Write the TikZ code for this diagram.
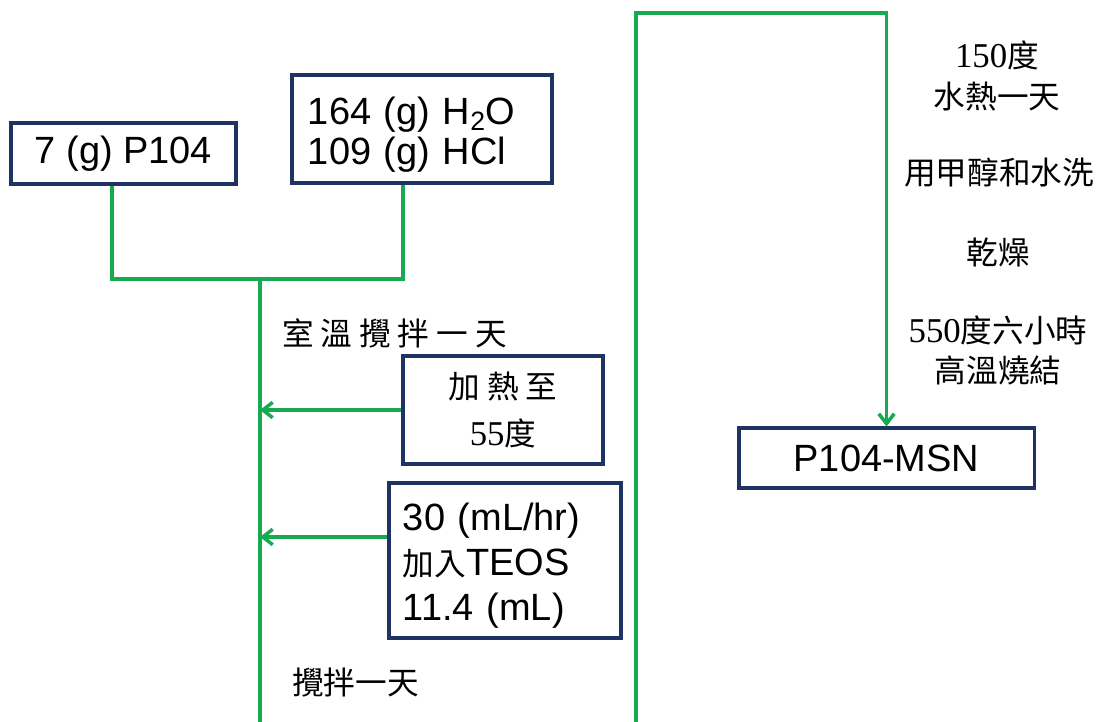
\documentclass[tikz,border=0pt]{standalone}
\usepackage{fontspec}
\setmainfont{Liberation Sans}
\newfontfamily\cjk{Noto Sans CJK TC}
\newfontfamily\cjkwide[LetterSpace=22]{Noto Sans CJK TC}
\newfontfamily\numfont[Scale=1.1]{Liberation Serif}
\usepackage{tikz}
\usetikzlibrary{arrows.meta}

\definecolor{flowgreen}{HTML}{18AA50}
\definecolor{boxnavy}{HTML}{1F3264}
\newcommand{\topstrut}{\rule{0pt}{27pt}}

\begin{document}
\begin{tikzpicture}[x=0.025cm, y=-0.025cm,
    chem/.style={draw=boxnavy, line width=2.2pt, fill=white, inner sep=0pt,
        font=\fontsize{27}{32}\selectfont},
    note/.style={inner sep=0pt, align=center, font=\fontsize{22.5}{29.5}\selectfont\cjk},
    flow/.style={draw=flowgreen, line width=2.5pt},
    feed/.style={flow, -{Straight Barb[length=7pt,width=11pt,line width=2.5pt]}}]
    \useasboundingbox (0,0) rectangle (1097,722);

    % starting materials
    \node[chem, minimum width=5.625cm, minimum height=1.525cm] (p104) at (123.5,153.5) {7 (g) P104};
    \node[chem, text width=5.7cm, inner xsep=0.4cm, minimum height=2.7cm, align=left,
        font=\fontsize{27}{28.5}\selectfont] (acid) at (422,129)
        {\topstrut 164 (g) H\textsubscript{2}O\\109 (g) HCl};

    \coordinate (jn) at (260,279);
    \coordinate (bl) at (260,722);
    \coordinate (br) at (636,722);
    \coordinate (tp) at (636,13);

    \draw[flow] ([xshift=-0.2875cm]p104.south) |- (jn) -| ([xshift=-0.475cm]acid.south);
    \draw[flow] (jn) -- (bl);

    \node[note, font=\fontsize{22.5}{29.5}\selectfont\cjkwide] (rt) at (394.5,333) {室溫攪拌一天};

    % added while stirring
    \node[chem, minimum width=5cm, minimum height=2.7cm, align=center,
        font=\fontsize{22.5}{33}\selectfont\cjkwide] (heat) at (503,410)
        {加熱至\\{\numfont 55}度};
    \node[chem, text width=5.1cm, inner xsep=0.35cm, minimum height=3.875cm, align=left] (teos) at (505,560.5)
        {\topstrut 30 (mL/hr)\\{\fontsize{22.5}{32}\selectfont\cjk 加入}TEOS\\11.4 (mL)};

    \draw[feed] (heat.west) -- (heat.west -| jn);
    \draw[feed] ([yshift=0.5875cm]teos.west) -- ([yshift=0.5875cm]teos.west -| jn);

    \node[note] (stir) at (355.5,683) {攪拌一天};

    % product
    \node[chem, minimum width=7.375cm, minimum height=1.5cm] (msn) at (886.5,458) {P104-MSN};
    \draw[feed] (br) -- (tp) -| (msn.north);

    \node[note] (hydro) at (997,76) {{\numfont 150}度\\水熱一天};
    \node[note] (wash) at (999,173) {用甲醇和水洗};
    \node[note] (dry) at (998,252) {乾燥};
    \node[note, font=\fontsize{22.5}{28.5}\selectfont\cjk] (calc) at (998,350) {{\numfont 550}度六小時\\高溫燒結};
\end{tikzpicture}
\end{document}
